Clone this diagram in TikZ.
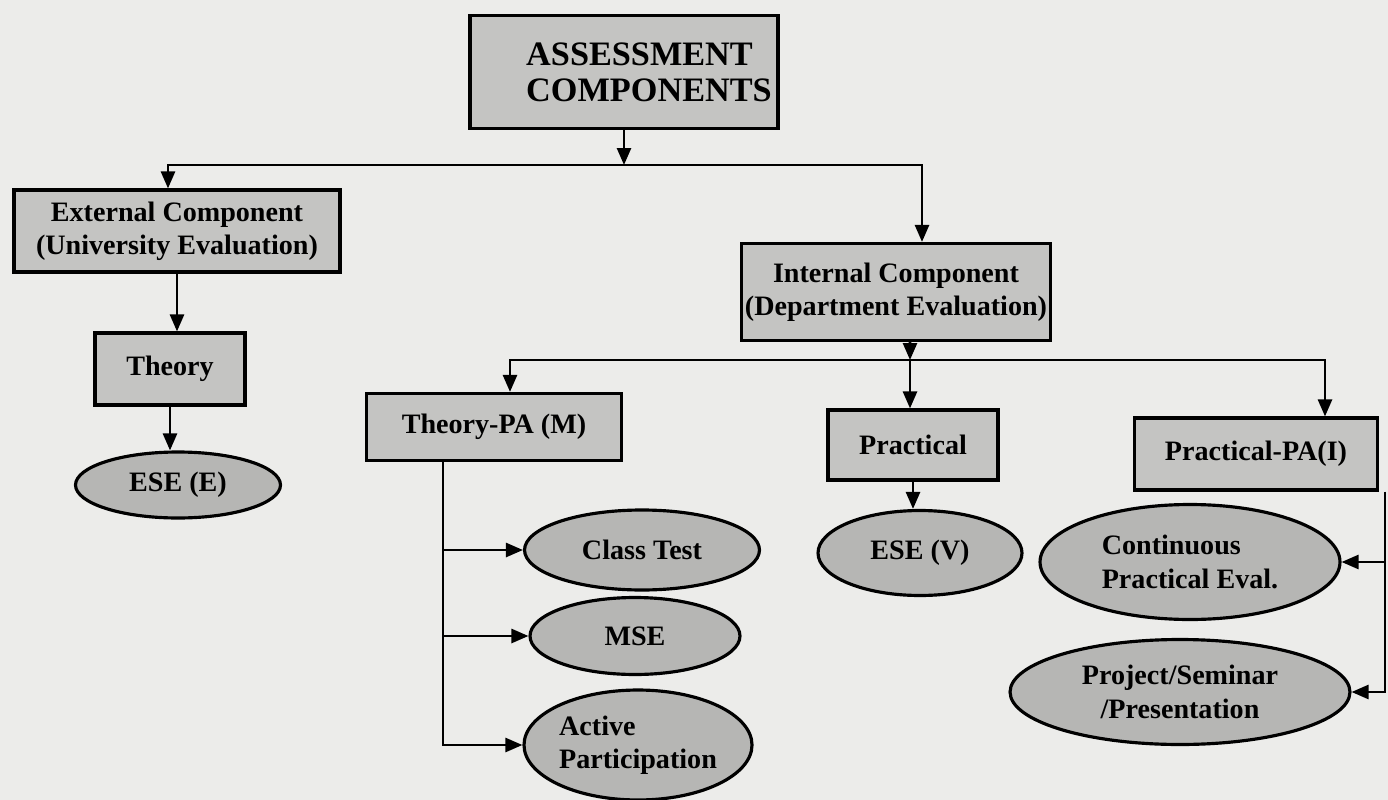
\documentclass[tikz,border=0pt]{standalone}
\usepackage{fontspec}
\setmainfont{Liberation Serif}
\usetikzlibrary{shapes.geometric, arrows.meta, positioning, calc}
\definecolor{paper}{HTML}{ECECEA}
\definecolor{boxgray}{HTML}{C4C4C2}
\definecolor{ovalgray}{HTML}{B6B6B4}
\tikzset{
    block/.style={
        rectangle, draw=black, line width=1.8pt,
        fill=boxgray, font=\fontsize{16}{19}\selectfont\bfseries,
        align=center, inner sep=2pt
    },
    headblock/.style={
        block, align=left,
        font=\fontsize{19.5}{20.5}\selectfont\bfseries
    },
    oval/.style={
        ellipse, draw=black, line width=1.8pt,
        fill=ovalgray, font=\fontsize{16}{19}\selectfont\bfseries,
        align=center, inner sep=1pt
    },
    link/.style={draw=black, line width=1.5pt, -{Triangle[length=0.34cm, width=0.28cm]}}
}

\begin{document}
\begin{tikzpicture}[x=0.02cm, y=-0.02cm]
\fill[paper] (0,0) rectangle (1388,800);
\useasboundingbox (0,0) rectangle (1388,800);

% Level 0
\node[headblock, minimum width=6.16cm, minimum height=2.26cm] (assess) at (624,72) {\hspace*{1cm}ASSESSMENT\\\hspace*{1cm}COMPONENTS};

% Level 1
\node[block, minimum width=6.52cm, minimum height=1.64cm] (external) at (177,231) {External Component\\(University Evaluation)};
\node[block, minimum width=6.06cm, minimum height=1.94cm] (internal) at (896,292) {Internal Component\\(Department Evaluation)};

% Level 2
\node[block, minimum width=3cm, minimum height=1.44cm] (theory) at (170,369) {Theory};
\node[block, minimum width=5.1cm, minimum height=1.34cm] (theorypa) at (494,427) {Theory-PA (M)};
\node[block, minimum width=3.4cm, minimum height=1.4cm] (practical) at (913,445) {Practical};
\node[block, minimum width=4.86cm, minimum height=1.44cm] (practicalpa) at (1256,454) {Practical-PA(I)};

% Leaves
\node[oval, minimum width=4.1cm, minimum height=1.32cm] (eseE) at (178,485) {ESE (E)};
\node[oval, minimum width=4.7cm, minimum height=1.6cm] (classtest) at (642,550) {Class Test};
\node[oval, minimum width=4.2cm, minimum height=1.54cm] (mse) at (635,636) {MSE};
\node[oval, minimum width=4.3cm, minimum height=2.2cm, align=left] (active) at (638,745) {Active\\Participation};
\node[oval, minimum width=4.08cm, minimum height=1.7cm] (eseV) at (920,553) {ESE (V)};
\node[oval, minimum width=6cm, minimum height=2.3cm, align=left] (contprac) at (1190,562) {Continuous\\Practical Eval.};
\node[oval, minimum width=6.8cm, minimum height=2.1cm] (project) at (1180,692) {Project/Seminar\\/Presentation};

% Top split
\coordinate (bar1) at (624,165);
\draw[link] (assess) -- (bar1);
\draw[link] (bar1) -| ([xshift=-0.18cm]external.north);
\draw[link] (bar1) -| ([xshift=0.52cm]internal.north);

% External branch
\draw[link] (external.south) -- (external.south |- theory.north);
\draw[link] (theory.south) -- (theory.south |- eseE.north);

% Internal split
\coordinate (bar2) at (910,360);
\draw[link] ([xshift=0.28cm]internal.south) -- (bar2);
\draw[link] (bar2) -- (bar2 |- practical.north);
\draw[link] (bar2) -| ([xshift=0.32cm]theorypa.north);
\draw[link] (bar2) -| ([xshift=1.38cm]practicalpa.north);

% Theory-PA leaves
\coordinate (tpatrunk) at ([xshift=-1.02cm]theorypa.south);
\draw[link] (tpatrunk) |- (active.west);
\draw[link] (tpatrunk |- classtest.west) -- (classtest.west);
\draw[link] (tpatrunk |- mse.west) -- (mse.west);

% Practical leaf
\draw[link] (practical.south) -- (practical.south |- eseV.north);

% Practical-PA leaves
\coordinate (ppatrunk) at ([xshift=0.12cm]practicalpa.south east);
\draw[link] (ppatrunk) |- (project.east);
\draw[link] (ppatrunk |- contprac.east) -- (contprac.east);

\end{tikzpicture}
\end{document}
